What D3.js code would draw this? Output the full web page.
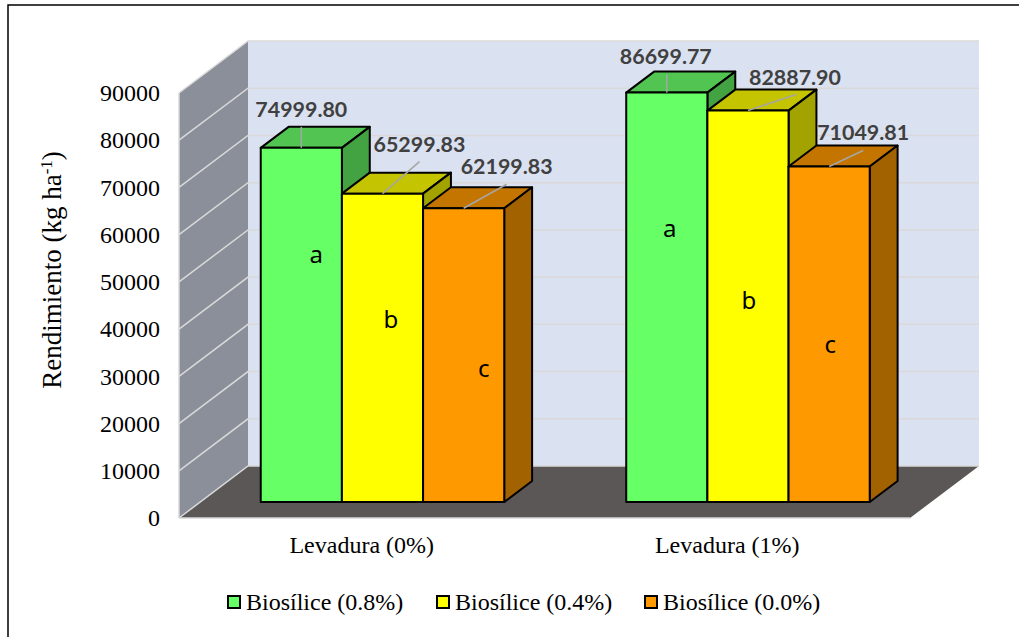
<!DOCTYPE html>
<html lang="es">
<head>
<meta charset="utf-8">
<title>Rendimiento</title>
<script src="https://cdn.jsdelivr.net/npm/d3@7"></script>
<style>
  html, body { margin: 0; padding: 0; background: #fff; }
  svg { display: block; }
  .serif { font-family: "Liberation Serif", serif; fill: #000; }
  .value { font-family: Lato, sans-serif; font-weight: 700; font-size: 21.4px; fill: #404040; }
  .letter { font-family: "Noto Sans", sans-serif; font-size: 24px; fill: #000; }
</style>
</head>
<body>
<svg id="chart" width="1019" height="637"></svg>
<script>
// Data
const categories = ["Levadura (0%)", "Levadura (1%)"];
const seriesNames = ["Biosílice (0.8%)", "Biosílice (0.4%)", "Biosílice (0.0%)"];
const yieldLevadura0 = [74999.80, 65299.83, 62199.83];
const yieldLevadura1 = [86699.77, 82887.90, 71049.81];
const lettersLevadura0 = ["a", "b", "c"];
const lettersLevadura1 = ["a", "b", "c"];
const yTicks = [0, 10000, 20000, 30000, 40000, 50000, 60000, 70000, 80000, 90000];

// Face colours per series
const frontColors = ["#66ff66", "#ffff00", "#ff9900"];
const topColors = ["#52c452", "#c4c400", "#c47500"];
const sideColors = ["#43a343", "#a3a300", "#a36200"];

// Label placement relative to the top-centre of each bar's front face
const leaderEnds = [
  [[0, -21], [37, -32], [43, -24]],
  [[0, -18], [48, -16], [34, -16]]
];
const labelOffsets = [
  [[0, -31], [37, -42], [43, -34]],
  [[-1, -29], [47, -26], [34, -26]]
];
const letterY = [[253, 318, 367], [227, 299, 343]];
const letterDx = [[15, 8.5, 20], [3, 1, 1]];

// Scales and oblique projection of the box
const x0 = d3.scaleBand().domain(categories).range([179, 910]);
const x1 = d3.scaleBand().domain(seriesNames).range([60.5, 304]);
const y = d3.scaleLinear().domain([0, 90000]).range([518, 93]);
const depthX = d3.scaleLinear().domain([0, 1]).range([0, 69]);
const depthY = d3.scaleLinear().domain([0, 1]).range([0, -52]);
const barDepthStart = 16 / 52;
const barDepthEnd = 37 / 52;

const svg = d3.select("#chart");
const poly = pts => pts.map(p => p.join(",")).join(" ");

// Frame, clipped by the page on the right and at the bottom
svg.append("path").attr("d", "M8,637V5H1019").attr("fill", "none").attr("stroke", "#000").attr("stroke-width", 1.5);

// Box walls and floor
const [xL, xR] = x0.range();
const dX = depthX(1), dY = depthY(1);
const yBase = y(0), yTop = y(90000);
svg.append("polygon").attr("fill", "#dae1f0")
  .attr("points", poly([[xL + dX, yBase + dY], [xR + dX, yBase + dY], [xR + dX, yTop + dY], [xL + dX, yTop + dY]]));
svg.append("polygon").attr("fill", "#8a8f99")
  .attr("points", poly([[xL, yBase], [xL + dX, yBase + dY], [xL + dX, yTop + dY], [xL, yTop]]));
svg.append("polygon").attr("fill", "#5b5757")
  .attr("points", poly([[xL, yBase], [xR, yBase], [xR + dX, yBase + dY], [xL + dX, yBase + dY]]));

// Gridlines run along the side wall and across the back wall
const grid = svg.append("g").attr("fill", "none").attr("stroke", "#d9d9d9").attr("stroke-width", 1.5);
grid.selectAll("path").data(yTicks).join("path")
  .attr("d", t => `M${xL},${y(t)}L${xL + dX},${y(t) + dY}L${xR + dX},${y(t) + dY}`);
svg.append("path").attr("fill", "none").attr("stroke", "#d9d9d9").attr("stroke-width", 1.5)
  .attr("d", `M${xL},${yBase}V${yTop}M${xL},${yBase}H${xR}`);

// Bars, left to right so each one overlaps its neighbour's side face
const groups = [yieldLevadura0, yieldLevadura1];
const letters = [lettersLevadura0, lettersLevadura1];
const barLayer = svg.append("g").attr("stroke", "#000").attr("stroke-width", 2).attr("stroke-linejoin", "round");
const frontOffsetX = depthX(barDepthStart), frontOffsetY = depthY(barDepthStart);
const boxDX = depthX(barDepthEnd) - frontOffsetX, boxDY = depthY(barDepthEnd) - frontOffsetY;

const tops = [];
categories.forEach((cat, g) => {
  seriesNames.forEach((name, s) => {
    const left = x0(cat) + x1(name) + frontOffsetX;
    const right = left + x1.bandwidth();
    const bottom = y(0) + frontOffsetY;
    const top = y(groups[g][s]) + frontOffsetY;
    barLayer.append("polygon").attr("fill", topColors[s])
      .attr("points", poly([[left, top], [right, top], [right + boxDX, top + boxDY], [left + boxDX, top + boxDY]]));
    barLayer.append("polygon").attr("fill", sideColors[s])
      .attr("points", poly([[right, top], [right + boxDX, top + boxDY], [right + boxDX, bottom + boxDY], [right, bottom]]));
    barLayer.append("rect").attr("fill", frontColors[s])
      .attr("x", left).attr("y", top).attr("width", right - left).attr("height", bottom - top);
    tops.push({ g, s, cx: (left + right) / 2, top, value: groups[g][s], letter: letters[g][s] });
  });
});

// Leader lines and value labels
svg.append("g").attr("stroke", "#a6a6a6").attr("stroke-width", 1.5)
  .selectAll("line").data(tops).join("line")
  .attr("x1", d => d.cx).attr("y1", d => d.top)
  .attr("x2", d => d.cx + leaderEnds[d.g][d.s][0]).attr("y2", d => d.top + leaderEnds[d.g][d.s][1]);
svg.append("g").selectAll("text").data(tops).join("text")
  .attr("class", "value").attr("text-anchor", "middle")
  .attr("x", d => d.cx + labelOffsets[d.g][d.s][0])
  .attr("y", d => d.top + labelOffsets[d.g][d.s][1])
  .text(d => d.value.toFixed(2));

// Significance letters on the front faces
svg.append("g").selectAll("text").data(tops).join("text")
  .attr("class", "letter").attr("text-anchor", "middle").attr("dominant-baseline", "central")
  .attr("x", d => d.cx + letterDx[d.g][d.s])
  .attr("y", d => letterY[d.g][d.s])
  .text(d => d.letter);

// Value axis
const yAxis = svg.append("g").attr("transform", "translate(166,0)")
  .call(d3.axisLeft(y).tickValues(yTicks).tickFormat(d3.format("d")).tickSize(0).tickPadding(6));
yAxis.select(".domain").remove();
yAxis.selectAll("text").attr("class", "serif").attr("font-size", 24).attr("font-family", "Liberation Serif");

// Axis title with the superscript exponent
const title = svg.append("text").attr("class", "serif").attr("font-size", 27)
  .attr("text-anchor", "middle")
  .attr("transform", "translate(61,270) rotate(-90)");
title.append("tspan").text("Rendimiento  (kg ha");
title.append("tspan").attr("font-size", 17).attr("dy", -9).text("-1");
title.append("tspan").attr("dy", 9).text(")");

// Category labels
svg.append("g").selectAll("text").data(categories).join("text")
  .attr("class", "serif").attr("font-size", 24).attr("text-anchor", "middle")
  .attr("x", d => x0(d) + x0.bandwidth() / 2)
  .attr("y", 553)
  .text(d => d);

// Legend
const legendX = d3.scaleOrdinal().domain(seriesNames).range([227, 436, 644]);
const legend = svg.append("g").selectAll("g").data(seriesNames).join("g")
  .attr("transform", d => `translate(${legendX(d)},595)`);
legend.append("rect").attr("x", 1).attr("y", 1).attr("width", 12).attr("height", 12)
  .attr("fill", (d, i) => frontColors[i]).attr("stroke", "#000").attr("stroke-width", 2);
legend.append("text").attr("class", "serif").attr("font-size", 24)
  .attr("x", 19).attr("y", 15).text(d => d);
</script>
</body>
</html>
